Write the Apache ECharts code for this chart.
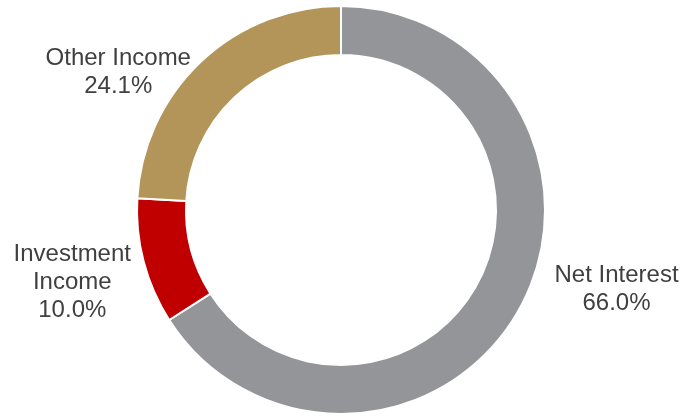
<!DOCTYPE html>
<html><head><meta charset="utf-8">
<script src="https://cdn.jsdelivr.net/npm/echarts@6/dist/echarts.min.js"></script>
<style>html,body{margin:0;padding:0;background:#fff}#c{width:684px;height:416px}</style>
</head><body><div id="c"></div>
<script>
const categories = ['Net Interest', 'Investment Income', 'Other Income'];
const labelNames = ['Net Interest', 'Investment\nIncome', 'Other Income'];
const values = [66.0, 10.0, 24.1];
const colors = ['#939598', '#C00000', '#B3955A'];
const labelShift = [[-11, -28], [38, 16], [21, 25]];

const chart = echarts.init(document.getElementById('c'));
chart.setOption({
  backgroundColor: '#fff',
  animation: false,
  series: [{
    type: 'pie',
    center: [341, 210],
    radius: [155, 204],
    startAngle: 90,
    clockwise: true,
    avoidLabelOverlap: false,
    itemStyle: { borderColor: '#fff', borderWidth: 2 },
    label: {
      show: true,
      position: 'outside',
      formatter: p => '{t|' + labelNames[p.dataIndex] + '\n' + p.value.toFixed(1) + '%}',
      rich: {
        t: { fontFamily: 'Liberation Sans, Arial, sans-serif', fontSize: 24, lineHeight: 28, color: '#404040', width: 150, align: 'center' }
      }
    },
    labelLine: { show: false, length: 20, length2: 10 },
    labelLayout: p => ({ dx: labelShift[p.dataIndex][0], dy: labelShift[p.dataIndex][1] }),
    emphasis: { disabled: true },
    data: categories.map((c, i) => ({ name: c, value: values[i], itemStyle: { color: colors[i] } }))
  }]
});
</script></body></html>
